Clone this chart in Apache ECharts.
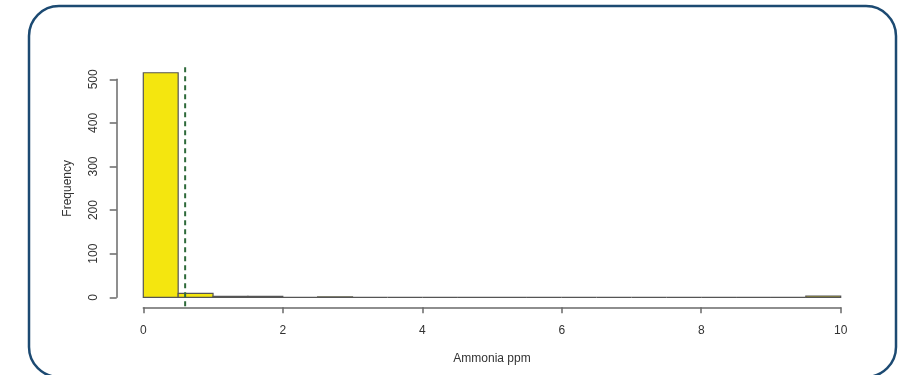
<!DOCTYPE html>
<html>
<head>
<meta charset="utf-8">
<script src="https://cdn.jsdelivr.net/npm/echarts@6/dist/echarts.min.js"></script>
<style>
  html, body { margin: 0; padding: 0; background: #ffffff; }
  #chart { width: 912px; height: 375px; }
</style>
</head>
<body>
<div id="chart"></div>
<script>
// Histogram of ammonia readings, bins of 0.5 ppm from 0 to 10
const binStarts = [0, 0.5, 1, 1.5, 2, 2.5, 3, 3.5, 4, 4.5, 5, 5.5, 6, 6.5, 7, 7.5, 8, 8.5, 9, 9.5];
const binWidth = 0.5;
const binCounts = [515, 9, 2, 2, 0, 1, 0, 0, 0, 0, 0, 0, 0, 0, 0, 0, 0, 0, 0, 3];
const xTicks = [0, 2, 4, 6, 8, 10];
const yTicks = [0, 100, 200, 300, 400, 500];
const referenceLine = [0.6];   // dashed marker position (ppm)
const plotRangeY = [-20.6, 535.6]; // vertical extent of the plotting region

const histData = binStarts.map((s, i) => [s, s + binWidth, binCounts[i]]);

const chart = echarts.init(document.getElementById('chart'), null, { renderer: 'canvas' });

const font = 'Liberation Sans, Arial, sans-serif';
const textColor = '#333333';
const axisColor = '#6a6a6a';

chart.setOption({
  animation: false,
  backgroundColor: '#ffffff',
  graphic: [{
    type: 'rect',
    shape: { x: 29, y: 6, width: 867, height: 371, r: 30 },
    style: { fill: 'none', stroke: '#1c4a72', lineWidth: 2.5 },
    z: 100
  }],
  grid: { left: 143.3, right: 71.3, top: 79.3, bottom: 77.7 },
  xAxis: {
    type: 'value',
    min: xTicks[0], max: xTicks[xTicks.length - 1], interval: 2,
    offset: 10,
    name: 'Ammonia ppm',
    nameLocation: 'middle',
    nameGap: 45,
    nameTextStyle: { fontFamily: font, fontSize: 12, color: textColor },
    axisLine: { onZero: false, lineStyle: { color: axisColor, width: 1.5 } },
    axisTick: { length: 6, lineStyle: { color: axisColor, width: 1.5 } },
    axisLabel: { fontFamily: font, fontSize: 12, color: textColor, margin: 17 },
    splitLine: { show: false }
  },
  yAxis: {
    type: 'value',
    min: yTicks[0], max: yTicks[yTicks.length - 1], interval: 100,
    offset: 26.6,
    name: 'Frequency',
    nameLocation: 'middle',
    nameGap: 43,
    nameTextStyle: { fontFamily: font, fontSize: 12, color: textColor },
    axisLine: { show: true, onZero: false, lineStyle: { color: axisColor, width: 1.5 } },
    axisTick: { show: true, length: 7, lineStyle: { color: axisColor, width: 1.5 } },
    axisLabel: { fontFamily: font, fontSize: 12, color: textColor, rotate: 90, margin: 17 },
    splitLine: { show: false }
  },
  series: [
    {
      type: 'custom',
      clip: false,
      data: histData,
      renderItem: function (params, api) {
        const p0 = api.coord([api.value(0), 0]);
        const p1 = api.coord([api.value(1), api.value(2)]);
        return {
          type: 'rect',
          shape: { x: p0[0], y: p1[1], width: p1[0] - p0[0], height: p0[1] - p1[1] },
          style: { fill: '#f4e60f', stroke: '#555555', lineWidth: 1.2 }
        };
      }
    },
    {
      type: 'custom',
      clip: false,
      data: referenceLine.map(v => [v]),
      renderItem: function (params, api) {
        const a = api.coord([api.value(0), plotRangeY[0]]);
        const b = api.coord([api.value(0), plotRangeY[1]]);
        return {
          type: 'line',
          shape: { x1: a[0], y1: a[1], x2: b[0], y2: b[1] },
          style: { stroke: '#2e6a3a', lineWidth: 2, lineDash: [5, 4] },
          z2: 10
        };
      },
      z: 5
    }
  ]
});
</script>
</body>
</html>
